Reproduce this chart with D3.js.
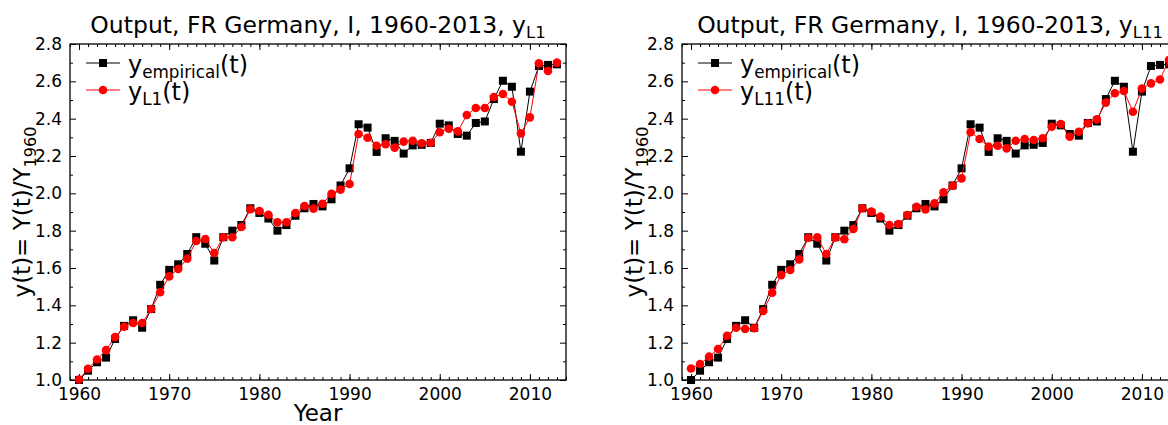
<!DOCTYPE html>
<html>
<head>
<meta charset="utf-8">
<script src="https://cdn.jsdelivr.net/npm/d3@7"></script>
<style>
  body { margin: 0; background: #fff; }
  svg { display: block; font-family: "DejaVu Sans", sans-serif; }
</style>
</head>
<body>
<svg id="chart" width="1168" height="425"></svg>
<script>
// Years of the series
const years = [1960,1961,1962,1963,1964,1965,1966,1967,1968,1969,
               1970,1971,1972,1973,1974,1975,1976,1977,1978,1979,
               1980,1981,1982,1983,1984,1985,1986,1987,1988,1989,
               1990,1991,1992,1993,1994,1995,1996,1997,1998,1999,
               2000,2001,2002,2003,2004,2005,2006,2007,2008,2009,
               2010,2011,2012,2013];

// Empirical output relative to 1960
const empirical = [1.000,1.050,1.095,1.120,1.220,1.290,1.320,1.280,1.380,1.510,
                   1.590,1.620,1.675,1.765,1.730,1.640,1.765,1.800,1.830,1.920,
                   1.895,1.865,1.800,1.830,1.880,1.920,1.943,1.930,1.968,2.042,
                   2.134,2.370,2.352,2.222,2.295,2.281,2.213,2.257,2.260,2.270,
                   2.373,2.364,2.318,2.309,2.377,2.385,2.505,2.603,2.571,2.223,
                   2.545,2.682,2.688,2.691];

// Model L1
const modelL1 = [1.003,1.060,1.110,1.160,1.230,1.285,1.305,1.305,1.380,1.470,
                 1.555,1.595,1.650,1.745,1.755,1.680,1.765,1.765,1.820,1.915,
                 1.905,1.885,1.845,1.845,1.895,1.932,1.918,1.944,1.997,2.020,
                 2.050,2.318,2.298,2.255,2.263,2.245,2.277,2.282,2.268,2.271,
                 2.327,2.346,2.332,2.420,2.457,2.457,2.516,2.532,2.491,2.321,
                 2.407,2.697,2.655,2.700];

// Model L11
const modelL11 = [1.062,1.086,1.125,1.166,1.237,1.280,1.273,1.277,1.370,1.468,
                  1.562,1.589,1.646,1.762,1.764,1.675,1.764,1.754,1.809,1.920,
                  1.902,1.875,1.830,1.836,1.884,1.928,1.914,1.946,2.005,2.041,
                  2.080,2.327,2.291,2.250,2.255,2.241,2.282,2.291,2.286,2.295,
                  2.357,2.371,2.303,2.330,2.375,2.396,2.486,2.536,2.548,2.437,
                  2.562,2.589,2.610,2.714];

const xMajorTicks = [1960,1970,1980,1990,2000,2010];
const xMinorTicks = d3.range(1959, 2015);
const yMajorTicks = [1.0,1.2,1.4,1.6,1.8,2.0,2.2,2.4,2.6,2.8];
const yMinorTicks = [1.1,1.3,1.5,1.7,1.9,2.1,2.3,2.5,2.7];

const panels = [
  { left: 70,  model: modelL1,  sub: "L1",  xLabel: true },
  { left: 682, model: modelL11, sub: "L11", xLabel: false }
];

const svg = d3.select("#chart");
const plotW = 496, plotTop = 44, plotBottom = 380;

panels.forEach(p => {
  const x = d3.scaleLinear().domain([1959, 2014]).range([p.left, p.left + plotW]);
  const y = d3.scaleLinear().domain([1.0, 2.8]).range([plotBottom, plotTop]);
  const g = svg.append("g");

  // inward ticks on all four sides
  const fmt = d3.format(".1f");
  const addAxis = (axis, tx, ty, vals, size, labels) => {
    const a = g.append("g").attr("transform", `translate(${tx},${ty})`)
      .call(axis.tickValues(vals).tickSize(size).tickPadding(8)
        .tickFormat(labels ? labels : () => ""));
    a.select(".domain").remove();
    a.selectAll("line").attr("stroke", "#000").attr("stroke-width", 1);
    a.selectAll("text").attr("font-size", 17).attr("fill", "#000")
      .attr("font-family", "DejaVu Sans");
  };
  addAxis(d3.axisBottom(x), 0, plotBottom, xMajorTicks, -6, d => d);
  addAxis(d3.axisBottom(x), 0, plotBottom, xMinorTicks, -3, null);
  addAxis(d3.axisTop(x), 0, plotTop, xMajorTicks, -6, null);
  addAxis(d3.axisTop(x), 0, plotTop, xMinorTicks, -3, null);
  addAxis(d3.axisLeft(y), p.left, 0, yMajorTicks, -6, fmt);
  addAxis(d3.axisLeft(y), p.left, 0, yMinorTicks, -3, null);
  addAxis(d3.axisRight(y), p.left + plotW, 0, yMajorTicks, -6, null);
  addAxis(d3.axisRight(y), p.left + plotW, 0, yMinorTicks, -3, null);

  // frame
  g.append("rect").attr("x", p.left).attr("y", plotTop)
    .attr("width", plotW).attr("height", plotBottom - plotTop)
    .attr("fill", "none").attr("stroke", "#000").attr("stroke-width", 1.3);

  const line = d3.line().x((d, i) => x(years[i])).y(d => y(d));

  // empirical series: black squares
  g.append("path").datum(empirical).attr("d", line)
    .attr("fill", "none").attr("stroke", "#000").attr("stroke-width", 1);
  const sq = 8;
  g.selectAll(".sq").data(empirical).enter().append("rect")
    .attr("x", (d, i) => x(years[i]) - sq / 2).attr("y", d => y(d) - sq / 2)
    .attr("width", sq).attr("height", sq).attr("fill", "#000");

  // model series: red circles
  g.append("path").datum(p.model).attr("d", line)
    .attr("fill", "none").attr("stroke", "#ff0000").attr("stroke-width", 1);
  g.selectAll(".ci").data(p.model).enter().append("circle")
    .attr("cx", (d, i) => x(years[i])).attr("cy", d => y(d))
    .attr("r", 4.3).attr("fill", "#ff0000");

  // title
  const title = g.append("text")
    .attr("x", p.left + plotW / 2).attr("y", 33)
    .attr("text-anchor", "middle").attr("font-size", 23.5).attr("fill", "#000");
  title.append("tspan").text("Output, FR Germany, I, 1960-2013, y");
  title.append("tspan").attr("font-size", "0.7em").attr("dy", 5).text(p.sub);

  // y-axis label
  const yl = g.append("text")
    .attr("transform", `translate(${p.left - 40},${(plotTop + plotBottom) / 2}) rotate(-90)`)
    .attr("text-anchor", "middle").attr("font-size", 23).attr("fill", "#000");
  yl.append("tspan").text("y(t)= Y(t)/Y");
  yl.append("tspan").attr("font-size", "0.7em").attr("dy", 6).text("1960");

  // x-axis label
  if (p.xLabel) {
    g.append("text").attr("x", p.left + plotW / 2).attr("y", 421)
      .attr("text-anchor", "middle").attr("font-size", 23).attr("fill", "#000")
      .text("Year");
  }

  // legend
  const legend = [
    { color: "#000", shape: "square", sub: "empirical", cy: 63 },
    { color: "#ff0000", shape: "circle", sub: p.sub, cy: 90 }
  ];
  legend.forEach(l => {
    const lx = p.left + 16;
    g.append("line").attr("x1", lx).attr("x2", lx + 34)
      .attr("y1", l.cy).attr("y2", l.cy)
      .attr("stroke", l.color).attr("stroke-width", 1);
    if (l.shape === "square") {
      g.append("rect").attr("x", lx + 17 - sq / 2).attr("y", l.cy - sq / 2)
        .attr("width", sq).attr("height", sq).attr("fill", l.color);
    } else {
      g.append("circle").attr("cx", lx + 17).attr("cy", l.cy).attr("r", 4.3)
        .attr("fill", l.color);
    }
    const t = g.append("text").attr("x", lx + 42).attr("y", l.cy + 10)
      .attr("font-size", 24).attr("fill", "#000");
    t.append("tspan").text("y");
    t.append("tspan").attr("font-size", "0.7em").attr("dy", 5).text(l.sub);
    t.append("tspan").attr("dy", -5).text("(t)");
  });
});
</script>
</body>
</html>
